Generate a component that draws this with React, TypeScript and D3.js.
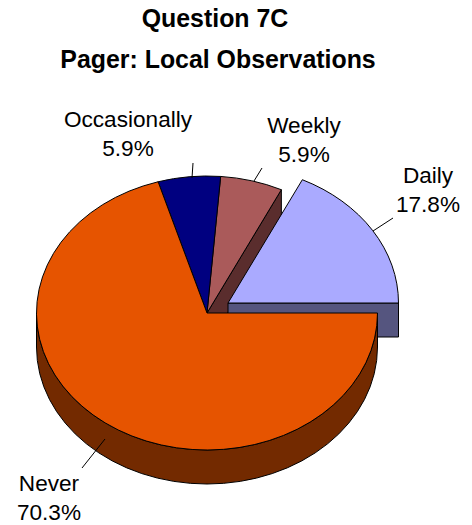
import * as d3 from "d3";

const categories = ["Daily", "Weekly", "Occasionally", "Never"];
const values = [17.8, 5.9, 5.9, 70.3];
const valueLabels = ["17.8%", "5.9%", "5.9%", "70.3%"];
const topColors = ["#AAAAFF", "#AA5A5A", "#000080", "#E65400"];
const sideColors = ["#55557F", "#5A2D2D", "#000040", "#732A00"];
const titleLines = ["Question 7C", "Pager: Local Observations"];
const titleCentres = [215, 218];

// Label anchors and leader lines, by category order.
const labelCentres = [[428, 183], [304, 133], [128, 127], [49, 491]];
const leaders = [
  [[373, 231], [393, 218]],
  [[254, 181], [262, 168]],
  [[192, 178], [193, 163]],
  [[105, 439], [82, 468]],
];

const WIDTH = 472;
const HEIGHT = 525;
const RX = 170.5;
const RY = 137;
const DEPTH = 34;
const SQUASH = RY / RX;
const CX = 207;
const CY = 313;
const DAILY_OFFSET: [number, number] = [21, -10];

// Pie angles run counter-clockwise from the east, starting with Daily.
const pie = d3
  .pie<number>()
  .sort(null)
  .startAngle(Math.PI / 2)
  .endAngle(Math.PI / 2 - 2 * Math.PI);
const slices = pie(values);
const arc = d3.arc<d3.PieArcDatum<number>>().innerRadius(0).outerRadius(RX);

const tilt = (dx: number, dy: number) =>
  `translate(${CX + dx},${CY + dy}) scale(1,${SQUASH})`;

const edgeProps = {
  stroke: "#000",
  strokeWidth: 1,
  vectorEffect: "non-scaling-stroke" as const,
  strokeLinejoin: "round" as const,
};

// Point on the ellipse rim for a d3 pie angle (0 = north, clockwise).
const rim = (a: number): [number, number] => [
  RX * Math.sin(a),
  -RY * Math.cos(a),
];

// Front wall of the large slice: the lower half of the rim, extruded downward.
function lowerWall(): string {
  const p = d3.path();
  const d = DEPTH / SQUASH;
  p.arc(0, 0, RX, 0, Math.PI, false);
  p.lineTo(-RX, d);
  p.arc(0, d, RX, Math.PI, 0, true);
  p.closePath();
  return p.toString();
}

// Cut face of a slice: the parallelogram under the radius at angle a.
function radialWall(a: number): string {
  const [x, y] = rim(a);
  const p = d3.path();
  p.moveTo(0, 0);
  p.lineTo(x, y);
  p.lineTo(x, y + DEPTH);
  p.lineTo(0, DEPTH);
  p.closePath();
  return p.toString();
}

export default function App() {
  const [daily, weekly, occasionally, never] = slices;
  const [ox, oy] = DAILY_OFFSET;
  const dailyEast = rim(daily.startAngle);
  return (
    <svg
      width={WIDTH}
      height={HEIGHT}
      viewBox={`0 0 ${WIDTH} ${HEIGHT}`}
      style={{ position: "absolute", left: 0, top: 0, background: "#fff" }}
      fontFamily="'Liberation Sans', Arial, sans-serif"
    >
      {titleLines.map((t, i) => (
        <text
          key={t}
          x={titleCentres[i]}
          y={27 + i * 40.5}
          textAnchor="middle"
          fontSize={24.9}
          fontWeight="bold"
          fill="#000"
        >
          {t}
        </text>
      ))}

      {/* Cut face of Weekly, seen through the gap left by the pulled-out slice */}
      <path
        d={radialWall(weekly.startAngle)}
        transform={`translate(${CX},${CY})`}
        fill={sideColors[1]}
        {...edgeProps}
      />

      {/* Daily: cut face along its eastern radius, then its top */}
      <rect
        x={CX + ox}
        y={CY + oy}
        width={dailyEast[0]}
        height={DEPTH}
        fill={sideColors[0]}
        {...edgeProps}
      />
      <path
        d={arc(daily) ?? ""}
        transform={tilt(ox, oy)}
        fill={topColors[0]}
        {...edgeProps}
      />

      {/* Tops of the two narrow slices */}
      <path d={arc(weekly) ?? ""} transform={tilt(0, 0)} fill={topColors[1]} {...edgeProps} />
      <path d={arc(occasionally) ?? ""} transform={tilt(0, 0)} fill={topColors[2]} {...edgeProps} />

      {/* Never: front wall, then top */}
      <path d={lowerWall()} transform={tilt(0, 0)} fill={sideColors[3]} {...edgeProps} />
      <path d={arc(never) ?? ""} transform={tilt(0, 0)} fill={topColors[3]} {...edgeProps} />

      {leaders.map((l, i) => (
        <line
          key={categories[i]}
          x1={l[0][0]}
          y1={l[0][1]}
          x2={l[1][0]}
          y2={l[1][1]}
          stroke="#000"
          strokeWidth={1}
        />
      ))}

      {categories.map((c, i) => (
        <text key={c} textAnchor="middle" fontSize={22.6} fill="#000">
          <tspan x={labelCentres[i][0]} y={labelCentres[i][1]}>
            {c}
          </tspan>
          <tspan x={labelCentres[i][0]} y={labelCentres[i][1] + 29}>
            {valueLabels[i]}
          </tspan>
        </text>
      ))}
    </svg>
  );
}
